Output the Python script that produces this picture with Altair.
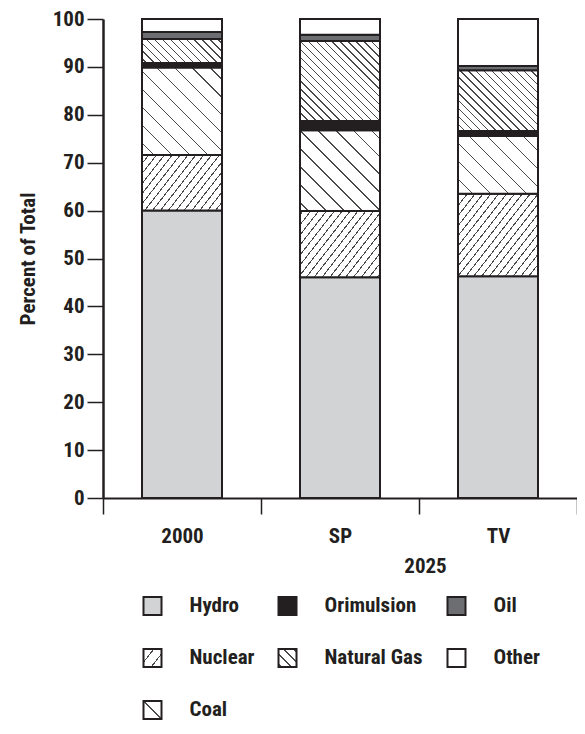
import math
import altair as alt

# ---------------- data ----------------
scenarios = ["2000", "SP", "TV"]
sources = ["Hydro", "Nuclear", "Coal", "Orimulsion", "Natural Gas", "Oil", "Other"]
hydro = [60.0, 46.1, 46.3]
nuclear = [11.6, 13.8, 17.2]
coal = [18.3, 16.9, 12.1]
orimulsion = [0.9, 1.9, 1.0]
natural_gas = [5.0, 16.7, 12.7]
oil = [1.5, 1.3, 0.9]
other = [2.7, 3.3, 9.8]
y_ticks = [0, 10, 20, 30, 40, 50, 60, 70, 80, 90, 100]
legend_order = ["Hydro", "Orimulsion", "Oil", "Nuclear", "Natural Gas", "Other", "Coal"]
group_label = "2025"
y_title = "Percent of Total"

series = {
    "Hydro": hydro, "Nuclear": nuclear, "Coal": coal, "Orimulsion": orimulsion,
    "Natural Gas": natural_gas, "Oil": oil, "Other": other,
}

# ---------------- style ----------------
PLOT_W, PLOT_H = 474, 479
BAR_W = 80
SYM = 18
INK = "#231f20"
HATCH_INK = "#4a4a4a"
FONT = "Roboto Condensed, Fira Sans Condensed, sans-serif"
FS = 21

styles = {
    "Hydro": {"fill": "#d1d3d4"},
    "Nuclear": {"dir": "/", "sp": 6.2, "angle": 52, "lsp": 9.0, "lphase": 4.5},
    "Coal": {"dir": "\\", "sp": 12.7, "angle": 45, "lsp": 40.0, "lphase": 0.0},
    "Orimulsion": {"fill": INK},
    "Natural Gas": {"dir": "\\", "sp": 5.6, "angle": 45, "lsp": 7.0, "lphase": 3.5},
    "Oil": {"fill": "#6d6e71"},
    "Other": {"fill": "#ffffff"},
}


def hatch(w, h, direction, sp, angle, phase=0.0, lw=1.0, bg="#ffffff", ink=HATCH_INK):
    """Striped linear gradient (objectBoundingBox units) giving hatch lines."""
    t = math.radians(angle)
    sn, cs = math.sin(t), math.cos(t)
    R = w * sn + h * cs
    if direction == "/":
        mx, my = sn * w, cs * h
        p1 = (0.0, 0.0)
        s = (mx + my) / (mx * mx + my * my)
    else:
        mx, my = sn * w, -cs * h
        p1 = (0.0, 1.0)
        s = (mx - my) / (mx * mx + my * my)
    p2 = (p1[0] + s * mx, p1[1] + s * my)
    half = lw / 2.0 / R
    offs = []
    k_max = int(R / sp) + 2
    for k in range(-k_max, k_max + 1):
        o = (R / 2.0 + phase + k * sp) / R
        if o - half > 0 and o + half < 1:
            offs.append(o)
    offs.sort()
    stops = [{"offset": 0, "color": bg}]
    for o in offs:
        a, b = round(o - half, 5), round(o + half, 5)
        stops += [{"offset": a, "color": bg}, {"offset": a, "color": ink},
                  {"offset": b, "color": ink}, {"offset": b, "color": bg}]
    stops.append({"offset": 1, "color": bg})
    return {"gradient": "linear", "x1": round(p1[0], 6), "y1": round(p1[1], 6),
            "x2": round(p2[0], 6), "y2": round(p2[1], 6), "stops": stops}


def paint(src, w, h, legend=False):
    st = styles[src]
    if "fill" in st:
        return st["fill"]
    if legend:
        return hatch(w, h, st["dir"], st["lsp"], st["angle"], st["lphase"])
    return hatch(w, h, st["dir"], st["sp"], st["angle"])


rows = []
for j, src in enumerate(sources):
    for i, sc in enumerate(scenarios):
        v = series[src][i]
        rows.append({"scenario": sc, "source": src, "order": j, "value": v,
                     "paint": paint(src, BAR_W, v * PLOT_H / 100.0)})

legend_rows = []
for n, name in enumerate(legend_order):
    legend_rows.append({"label": name, "col": n % 3, "row": n // 3,
                        "paint": paint(name, SYM, SYM, legend=True)})

# ---------------- charts ----------------
bars = alt.Chart(alt.Data(values=rows)).transform_stack(
    stack="value", groupby=["scenario"], sort=[alt.SortField("order", "ascending")],
    as_=["y0", "y1"],
).mark_bar(width=BAR_W, stroke=INK, strokeWidth=2, opacity=1).encode(
    x=alt.X("scenario:N", sort=scenarios,
            scale=alt.Scale(paddingInner=0, paddingOuter=0),
            axis=alt.Axis(title=group_label, titleX=322, titleY=57, tickBand="extent",
                          tickSize=16, tickWidth=1.5, tickColor=INK, domainColor=INK,
                          domainWidth=2, labelAngle=0, labelPadding=11,
                          labelFont=FONT, labelFontSize=FS, labelFontWeight="bold",
                          labelColor=INK, titleFont=FONT, titleFontSize=FS,
                          titleFontWeight="bold", titleColor=INK)),
    y=alt.Y("y0:Q", stack=None, scale=alt.Scale(domain=[0, 100], nice=False),
            axis=alt.Axis(values=y_ticks, title=y_title, tickSize=16, tickWidth=1.5,
                          tickColor=INK, domainColor=INK, domainWidth=2.5,
                          labelPadding=3, labelFont=FONT, labelFontSize=FS,
                          labelFontWeight="bold", labelColor=INK, titleFont=FONT,
                          titleFontSize=FS, titleFontWeight="bold", titleColor=INK,
                          titlePadding=14, grid=False)),
    y2="y1:Q",
    fill=alt.Fill("paint:N", scale=None),
)

lx = alt.X("col:Q", scale=alt.Scale(domain=[0, 1, 2], range=[49.5, 184.5, 353.5]), axis=None)
ly = alt.Y("row:Q", scale=alt.Scale(domain=[0, 2], range=[587, 691]), axis=None)

symbols = alt.Chart(alt.Data(values=legend_rows)).mark_square(
    size=SYM * SYM, stroke=INK, strokeWidth=2, opacity=1, filled=True
).encode(x=lx, y=ly, fill=alt.Fill("paint:N", scale=None))

labels = alt.Chart(alt.Data(values=legend_rows)).mark_text(
    align="left", baseline="middle", dx=37, font=FONT, fontSize=FS,
    fontWeight="bold", color=INK
).encode(x=lx, y=ly, text="label:N")

chart = alt.layer(bars, symbols, labels).resolve_scale(
    x="independent", y="independent"
).properties(
    width=PLOT_W, height=PLOT_H,
    autosize=alt.AutoSizeParams(type="none"),
    padding={"left": 95, "top": 11, "right": 0, "bottom": 223},
).configure_view(stroke=None)

chart.save("out.html", embed_options={"renderer": "svg", "actions": False})
